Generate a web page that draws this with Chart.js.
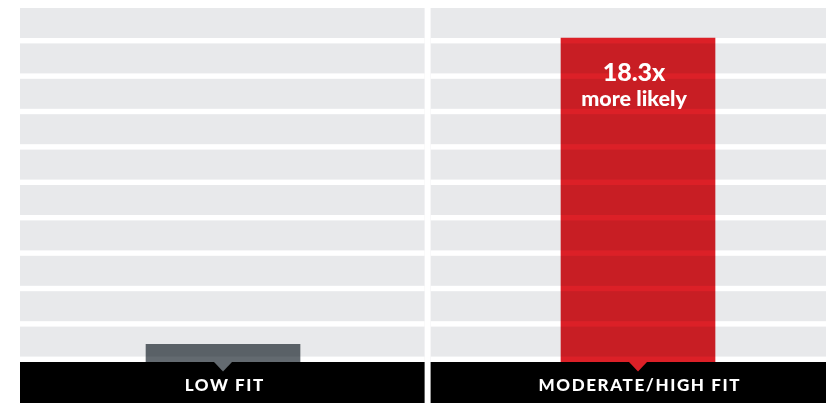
<!DOCTYPE html>
<html>
<head>
<meta charset="utf-8">
<script src="https://cdn.jsdelivr.net/npm/chart.js@4.4.1/dist/chart.umd.min.js"></script>
<style>
  html, body { margin: 0; padding: 0; background: #ffffff; overflow: hidden; }
  #wrap { width: 826px; height: 403px; position: relative; }
</style>
</head>
<body>
<div id="wrap"><canvas id="fit-chart"></canvas></div>
<script>
// datos del grafico
const categories = ["LOW FIT", "MODERATE/HIGH FIT"];
const likelihood = [1, 18.3];
const barColors = ["#636a70", "#dc2027"];
const calloutLines = [[], ["18.3x", "more likely"]];
const yMax = 20;
const yStep = 2;

// colores de fondo
const bandGray = "#e8e9eb";
const labelBand = "#000000";

// plugin: paneles grises, bandas blancas, franja negra y textos
const fitPanels = {
  id: "fitPanels",
  beforeDraw(chart) {
    const ctx = chart.ctx;
    ctx.save();
    ctx.fillStyle = "#ffffff";
    ctx.fillRect(0, 0, chart.width, chart.height);
    ctx.restore();
  },
  beforeDatasetsDraw(chart) {
    const { ctx, chartArea, scales } = chart;
    const x = scales.x, y = scales.y;
    const split = x.getPixelForValue(0.493);
    const panels = [
      [chartArea.left, split - 3],
      [split + 3, chartArea.right],
    ];
    ctx.save();
    panels.forEach(([l, r]) => {
      ctx.fillStyle = bandGray;
      ctx.fillRect(l, chartArea.top, r - l, chartArea.bottom - chartArea.top);
      ctx.fillStyle = "#ffffff";
      y.ticks.forEach((t) => {
        if (t.value >= yMax) return;
        const py = y.getPixelForValue(t.value);
        ctx.fillRect(l, py - 5.4, r - l, 5.4);
      });
    });
    ctx.restore();
  },
  beforeDatasetDraw(chart) {
    chart.ctx.save();
    chart.ctx.globalCompositeOperation = "multiply";
  },
  afterDatasetDraw(chart) {
    chart.ctx.restore();
  },
  afterDatasetsDraw(chart) {
    const { ctx, chartArea, scales } = chart;
    const x = scales.x;
    const split = x.getPixelForValue(0.493);
    const panels = [
      [chartArea.left, split - 3],
      [split + 3, chartArea.right],
    ];
    const bottom = chartArea.bottom;
    ctx.save();
    // franja negra con etiquetas
    ctx.fillStyle = labelBand;
    panels.forEach(([l, r]) => {
      ctx.fillRect(l, bottom, r - l, chart.height - bottom);
    });
    const meta = chart.getDatasetMeta(0);
    meta.data.forEach((bar, i) => {
      // triangulo que apunta a la etiqueta
      ctx.fillStyle = barColors[i];
      ctx.beginPath();
      ctx.moveTo(bar.x - 9, bottom);
      ctx.lineTo(bar.x + 9, bottom);
      ctx.lineTo(bar.x, bottom + 9.5);
      ctx.closePath();
      ctx.fill();

      ctx.fillStyle = "#ffffff";
      ctx.textAlign = "center";
      ctx.textBaseline = "alphabetic";
      ctx.font = "900 17px Lato";
      ctx.letterSpacing = "1.6px";
      ctx.fillText(categories[i], bar.x + 1.8, bottom + 29);
      ctx.letterSpacing = "0px";

      const lines = calloutLines[i];
      if (lines.length) {
        ctx.font = "900 25px Lato";
        ctx.fillText(lines[0], bar.x - 4, bar.y + 43);
        ctx.font = "900 21.5px Lato";
        ctx.fillText(lines[1], bar.x - 4, bar.y + 68);
      }
    });
    ctx.restore();
  },
};

new Chart(document.getElementById("fit-chart"), {
  type: "bar",
  data: {
    datasets: [
      {
        data: likelihood.map((v, i) => ({ x: i, y: v })),
        backgroundColor: barColors,
        borderWidth: 0,
        barThickness: 154,
      },
    ],
  },
  options: {
    responsive: true,
    maintainAspectRatio: false,
    animation: false,
    layout: { padding: { left: 20, top: 8, right: 0, bottom: 41 } },
    plugins: {
      legend: { display: false },
      tooltip: { enabled: false },
    },
    scales: {
      x: {
        type: "linear",
        min: -0.4892,
        max: 1.453,
        offset: false,
        display: false,
      },
      y: {
        min: 0,
        max: yMax,
        ticks: { stepSize: yStep },
        display: false,
      },
    },
  },
  plugins: [fitPanels],
});
</script>
</body>
</html>
